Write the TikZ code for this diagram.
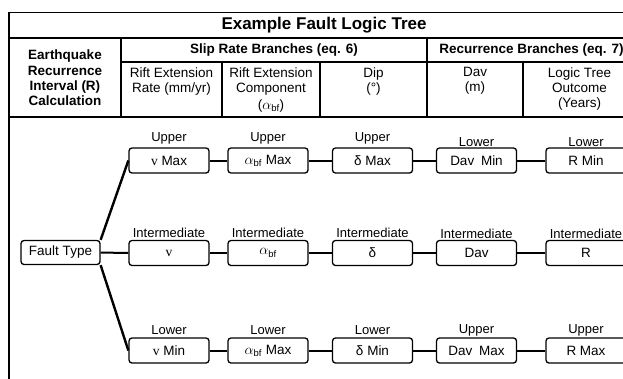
\documentclass[tikz,border=0pt]{standalone}
\usepackage{fontspec}
\setmainfont{Liberation Sans}
\newfontfamily\fuenteserif{Liberation Serif}

\begin{document}
\begin{tikzpicture}[x=1pt,y=-1pt]
% estilos de linea y texto
\tikzstyle{tabla} = [line width=1.3pt]
\tikzstyle{rama} = [line width=2pt]
\tikzstyle{caja} = [draw,line width=1.3pt,rounded corners=3pt,minimum width=80pt,
  minimum height=25pt,inner sep=0pt,font=\fontsize{13.5}{15}\selectfont]
\tikzstyle{rotulo} = [inner sep=1pt,font=\fontsize{13}{15}\selectfont]
\tikzstyle{encab} = [align=center,font=\fontsize{13.5}{15.3}\selectfont\bfseries]
\tikzstyle{subencab} = [align=center,anchor=north,font=\fontsize{13.5}{15}\selectfont]
% definicion caja de rama
% #1: nombre del nodo
% #2: ubicacion de la caja
% #3: texto de la caja
% #4: rotulo sobre la caja
% #5: separacion entre caja y rotulo
\newcommand{\caja}[5]{
\node [caja,label={[rotulo,label distance=#5]above:#4}] (#1) at #2 {#3};
}
\newcommand{\vel}{{\fuenteserif v}}
\newcommand{\alfa}{$\alpha_{\mathrm{bf}}$}
\useasboundingbox (0,0) rectangle (623,378);
% --------------------------------------
% dibujar tabla
\begin{scope}[tabla]
\draw (9,12.7) rectangle (636,395);
\draw (9,38) -- (636,38);
\draw (121,62) -- (636,62);
\draw (9,117) -- (636,117);
\draw (121,38) -- (121,117);
\draw (427,38) -- (427,117);
\foreach \x in {222,320,523} \draw (\x,62) -- (\x,117);
\end{scope}
% dibujar encabezados
\node [encab,font=\fontsize{17}{20}\selectfont\bfseries] (titulo) at (324,25) {Example Fault Logic Tree};
\node [encab] (calculo) at (65,78) {Earthquake\\Recurrence\\Interval (R)\\Calculation};
\node [encab] (deslizamiento) at (274,50) {Slip Rate Branches (eq. 6)};
\node [encab] (recurrencia) at (531.5,50) {Recurrence Branches (eq. 7)};
\node [subencab] (tasa) at (171.5,64) {Rift Extension\\Rate (mm/yr)};
\node [subencab] (componente) at (271,64) {Rift Extension\\Component\\[2pt](\alfa)};
\node [subencab] (buzamiento) at (373.5,64) {Dip\\(°)};
\node [subencab] (desplaz) at (475,64) {Dav\\(m)};
\node [subencab] (resultado) at (579.5,64) {Logic Tree\\Outcome\\(Years)};
% --------------------------------------
% dibujar cajas
\node [caja,minimum width=79pt,minimum height=24pt] (falla) at (60.5,252.5) {Fault Type};
\caja{v1}{(169,160.5)}{\vel\ Max}{Upper}{2pt}
\caja{a1}{(268,160.5)}{\alfa\ Max}{Upper}{2pt}
\caja{d1}{(372.5,160.5)}{δ Max}{Upper}{2pt}
\caja{m1}{(476.5,160.5)}{Dav\enspace Min}{Lower}{-0.5pt}
\caja{r1}{(586,160.5)}{R Min}{Lower}{-0.5pt}
\caja{v2}{(169,253)}{\vel}{Intermediate}{1pt}
\caja{a2}{(268,253)}{\alfa}{Intermediate}{1pt}
\caja{d2}{(372.5,253)}{δ}{Intermediate}{1pt}
\caja{m2}{(476.5,253)}{Dav}{Intermediate}{0pt}
\caja{r2}{(586,253)}{R}{Intermediate}{0pt}
\caja{v3}{(169,350.5)}{\vel\ Min}{Lower}{2pt}
\caja{a3}{(268,350.5)}{\alfa\ Max}{Lower}{2pt}
\caja{d3}{(372.5,350.5)}{δ Min}{Lower}{2pt}
\caja{m3}{(476.5,350.5)}{Dav\enspace Max}{Upper}{-0.5pt}
\caja{r3}{(586,350.5)}{R Max}{Upper}{-0.5pt}
% dibujar ramas
\draw [rama,line width=2.4pt] (falla.north east) -- (v1.west);
\draw [rama] (falla) -- (v2);
\draw [rama,line width=2.4pt] (falla.south east) -- (v3.west);
\foreach \i in {1,2,3}
  \draw [rama] (v\i) -- (a\i) (a\i) -- (d\i) (d\i) -- (m\i) (m\i) -- (r\i);
% --------------------------------------
\end{tikzpicture}
\end{document}
